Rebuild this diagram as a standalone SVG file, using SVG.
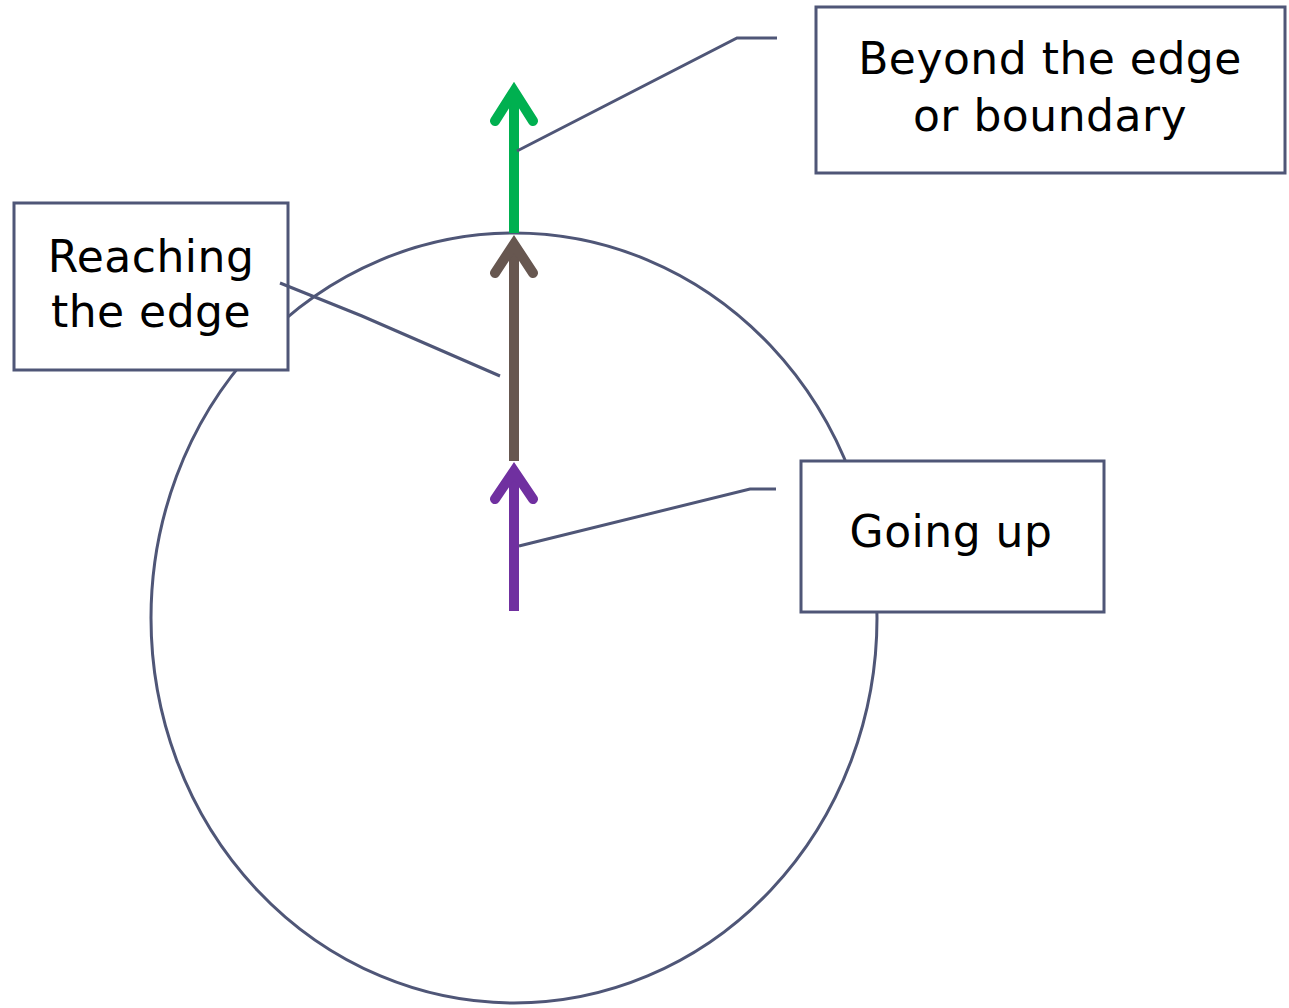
<svg xmlns="http://www.w3.org/2000/svg" width="1289" height="1008" viewBox="0 0 1289 1008">
<style>
.ln{fill:none;stroke:#4F5677;stroke-width:3}
.box{fill:#fff;stroke:#4F5677;stroke-width:3}
.t{font-family:"DejaVu Sans","Liberation Sans",sans-serif;font-size:44px;fill:#000;text-anchor:middle;letter-spacing:0.5px}
.shaft{fill:none;stroke-width:10;stroke-linecap:butt}
.head{fill:none;stroke-width:10;stroke-linecap:round;stroke-linejoin:miter;stroke-miterlimit:10}
</style>
<rect width="1289" height="1008" fill="#fff"/>
<ellipse id="circle" cx="514" cy="618" rx="363" ry="385" class="ln"/>
<g id="node-beyond">
<rect x="816" y="7" width="469" height="166" class="box"/>
<text class="t" x="1050" y="74">Beyond the edge</text>
<text class="t" x="1050" y="131">or boundary</text>
</g>
<g id="node-reaching">
<rect x="14" y="203" width="274" height="167" class="box"/>
<text class="t" x="151" y="272">Reaching</text>
<text class="t" x="151" y="327">the edge</text>
</g>
<g id="node-going">
<rect x="801" y="461" width="303" height="151" class="box"/>
<text class="t" x="951" y="547">Going up</text>
</g>
<g id="arrows">
<g id="arrow-green" stroke="#00B050">
<line x1="514" y1="233" x2="514" y2="92" class="shaft"/>
<polyline points="495,121 514,91 533,121" class="head"/>
</g>
<g id="arrow-brown" stroke="#675750">
<line x1="514" y1="461" x2="514" y2="245" class="shaft"/>
<polyline points="495,273 514,244 533,273" class="head"/>
</g>
<g id="arrow-purple" stroke="#7030A0">
<line x1="514" y1="611" x2="514" y2="472" class="shaft"/>
<polyline points="495,499 514,471 533,499" class="head"/>
</g>
</g>
<g id="connectors">
<polyline points="517,151 737,38 777,38" class="ln"/>
<polyline points="280,283 362,316 500,376" class="ln"/>
<polyline points="519,546 750,489 776,489" class="ln"/>
</g>
</svg>
